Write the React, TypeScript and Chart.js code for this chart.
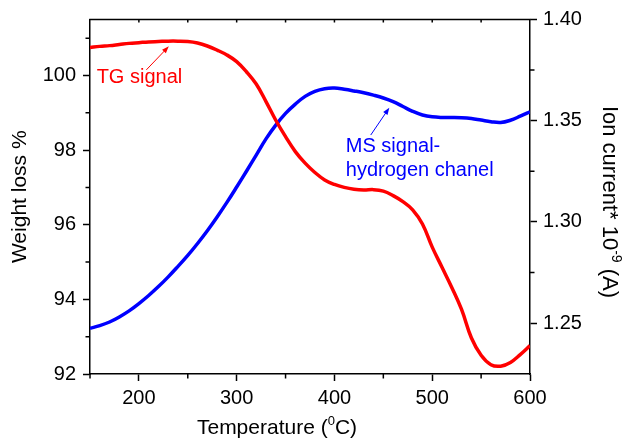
import React, { useEffect, useRef } from 'react';
import { Chart, registerables } from 'chart.js';

Chart.register(...registerables);

const temperatures = [150, 160, 170, 180, 190, 200, 210, 220, 230, 240, 250, 260, 270, 280, 290, 300, 310, 320, 330, 340, 350, 360, 370, 380, 390, 400, 410, 420, 430, 440, 450, 460, 470, 480, 490, 500, 510, 520, 530, 540, 550, 560, 570, 580, 590, 600];

const tgSignal = [100.75, 100.78, 100.8, 100.83, 100.86, 100.88, 100.9, 100.91, 100.92, 100.92, 100.91, 100.87, 100.79, 100.68, 100.55, 100.37, 100.1, 99.77, 99.3, 98.8, 98.36, 97.96, 97.65, 97.4, 97.2, 97.08, 97.0, 96.95, 96.93, 96.94, 96.9, 96.78, 96.62, 96.4, 96.02, 95.4, 94.86, 94.32, 93.73, 92.97, 92.5, 92.25, 92.21, 92.31, 92.52, 92.76];

const msSignal = [1.2474, 1.2487, 1.2505, 1.253, 1.256, 1.2596, 1.2636, 1.268, 1.2728, 1.278, 1.2834, 1.2893, 1.2956, 1.3024, 1.3096, 1.3172, 1.325, 1.333, 1.341, 1.3478, 1.3536, 1.3582, 1.362, 1.3645, 1.3658, 1.3661, 1.3655, 1.3647, 1.3638, 1.3626, 1.3612, 1.3594, 1.357, 1.3546, 1.3528, 1.3519, 1.3516, 1.3516, 1.3515, 1.3511, 1.3503, 1.3495, 1.3491, 1.3502, 1.3522, 1.3544];

const xTicks = [200, 300, 400, 500, 600];
const xMinorTicks = [150, 250, 350, 450, 550];
const leftTicks = [92, 94, 96, 98, 100];
const leftMinorTicks = [93, 95, 97, 99, 101];
const rightTicks = [1.25, 1.3, 1.35, 1.4];
const rightMinorTicks = [1.275, 1.325, 1.375];

const xRange = [150, 600];
const leftRange = [92, 101.5];
const rightRange = [1.2248, 1.4];

// annotations in data coordinates: [x, y]
const tgLabel = { text: 'TG signal', at: [156.8, 99.8], tail: [207.6, 100.15], head: [230.6, 100.78] };
const msLabel = { lines: ['MS signal-', 'hydrogen chanel'], at: [411.6, 1.3347], lineGap: 1.3227, tail: [437.1, 1.3429], head: [456.1, 1.3564] };

const FONT = '"Liberation Sans", Arial, sans-serif';

function drawArrow(ctx: CanvasRenderingContext2D, x1: number, y1: number, x2: number, y2: number, color: string) {
  const ang = Math.atan2(y2 - y1, x2 - x1);
  const len = 7;
  const w = 2.6;
  ctx.save();
  ctx.strokeStyle = color;
  ctx.fillStyle = color;
  ctx.lineWidth = 1;
  ctx.beginPath();
  ctx.moveTo(x1, y1);
  ctx.lineTo(x2 - Math.cos(ang) * len * 0.8, y2 - Math.sin(ang) * len * 0.8);
  ctx.stroke();
  ctx.beginPath();
  ctx.moveTo(x2, y2);
  ctx.lineTo(x2 - Math.cos(ang) * len - Math.sin(ang) * w, y2 - Math.sin(ang) * len + Math.cos(ang) * w);
  ctx.lineTo(x2 - Math.cos(ang) * len + Math.sin(ang) * w, y2 - Math.sin(ang) * len - Math.cos(ang) * w);
  ctx.closePath();
  ctx.fill();
  ctx.restore();
}

const decorPlugin = {
  id: 'decor',
  afterDraw(chart: any) {
    const { ctx, chartArea } = chart;
    const sx = chart.scales.x;
    const sy = chart.scales.y;
    const sy1 = chart.scales.y1;
    const { left, right, top, bottom } = chartArea;
    ctx.save();
    ctx.strokeStyle = '#000';
    ctx.lineWidth = 1.5;
    // top frame
    ctx.beginPath();
    ctx.moveTo(left - 0.75, top);
    ctx.lineTo(right + 0.75, top);
    ctx.stroke();
    ctx.beginPath();
    // bottom minor ticks
    xMinorTicks.forEach((v) => {
      const p = sx.getPixelForValue(v);
      ctx.moveTo(p, bottom);
      ctx.lineTo(p, bottom + 4.5);
    });
    // top inward ticks
    [...xTicks, ...xMinorTicks].forEach((v) => {
      const p = sx.getPixelForValue(v);
      if (p > left + 1 && p < right - 1) {
        ctx.moveTo(p, top);
        ctx.lineTo(p, top + 3);
      }
    });
    leftMinorTicks.forEach((v) => {
      const p = sy.getPixelForValue(v);
      ctx.moveTo(left - 4.5, p);
      ctx.lineTo(left, p);
    });
    rightMinorTicks.forEach((v) => {
      const p = sy1.getPixelForValue(v);
      ctx.moveTo(right, p);
      ctx.lineTo(right + 4.5, p);
    });
    ctx.stroke();

    // annotations
    ctx.font = `20px ${FONT}`;
    ctx.textAlign = 'left';
    ctx.textBaseline = 'alphabetic';
    ctx.fillStyle = '#ff0000';
    ctx.fillText(tgLabel.text, sx.getPixelForValue(tgLabel.at[0]), sy.getPixelForValue(tgLabel.at[1]));
    drawArrow(ctx, sx.getPixelForValue(tgLabel.tail[0]), sy.getPixelForValue(tgLabel.tail[1]), sx.getPixelForValue(tgLabel.head[0]), sy.getPixelForValue(tgLabel.head[1]), '#ff0000');
    ctx.fillStyle = '#0000ff';
    ctx.fillText(msLabel.lines[0], sx.getPixelForValue(msLabel.at[0]), sy1.getPixelForValue(msLabel.at[1]));
    ctx.fillText(msLabel.lines[1], sx.getPixelForValue(msLabel.at[0]), sy1.getPixelForValue(msLabel.lineGap));
    drawArrow(ctx, sx.getPixelForValue(msLabel.tail[0]), sy1.getPixelForValue(msLabel.tail[1]), sx.getPixelForValue(msLabel.head[0]), sy1.getPixelForValue(msLabel.head[1]), '#0000ff');

    // axis titles
    const big = `21px ${FONT}`;
    const small = `13px ${FONT}`;
    ctx.fillStyle = '#000';
    // bottom
    ctx.font = big;
    ctx.textAlign = 'left';
    const t1 = 'Temperature (';
    const t2 = '0';
    const t3 = 'C)';
    const w1 = ctx.measureText(t1).width;
    const w3 = ctx.measureText(t3).width;
    ctx.font = small;
    const w2 = ctx.measureText(t2).width;
    const total = w1 + w2 + w3;
    const bx = 277 - total / 2;
    const by = 434;
    ctx.font = big;
    ctx.fillText(t1, bx, by);
    ctx.font = small;
    ctx.fillText(t2, bx + w1, by - 9);
    ctx.font = big;
    ctx.fillText(t3, bx + w1 + w2, by);

    // left
    ctx.save();
    ctx.translate(26, (top + bottom) / 2);
    ctx.rotate(-Math.PI / 2);
    ctx.font = big;
    ctx.textAlign = 'center';
    ctx.fillText('Weight loss %', 0, 0);
    ctx.restore();

    // right
    const bigR = `22px ${FONT}`;
    const smallR = `14px ${FONT}`;
    ctx.save();
    ctx.translate(603, 202);
    ctx.rotate(Math.PI / 2);
    ctx.textAlign = 'left';
    const r1 = 'Ion current* 10';
    const r2 = '-9';
    const r3 = ' (A)';
    ctx.font = bigR;
    const q1 = ctx.measureText(r1).width;
    const q3 = ctx.measureText(r3).width;
    ctx.font = smallR;
    const q2 = ctx.measureText(r2).width;
    const rt = q1 + q2 + q3;
    const rx = -rt / 2;
    ctx.font = bigR;
    ctx.fillText(r1, rx, 0);
    ctx.font = smallR;
    ctx.fillText(r2, rx + q1, -9);
    ctx.font = bigR;
    ctx.fillText(r3, rx + q1 + q2, 0);
    ctx.restore();

    ctx.restore();
  },
};

export default function App() {
  const ref = useRef<HTMLCanvasElement | null>(null);
  useEffect(() => {
    if (!ref.current) return;
    const tickFont = { family: FONT, size: 20 };
    const gridCommon = { drawOnChartArea: false, drawTicks: true, tickLength: 7, tickColor: '#000', tickWidth: 1.5 };
    const chart = new Chart(ref.current, {
      type: 'line',
      data: {
        datasets: [
          {
            label: 'TG signal',
            data: temperatures.map((t, i) => ({ x: t, y: tgSignal[i] })),
            borderColor: '#ff0000',
            borderWidth: 3.5,
            pointRadius: 0,
            tension: 0.4,
            yAxisID: 'y',
            fill: false,
          },
          {
            label: 'MS signal',
            data: temperatures.map((t, i) => ({ x: t, y: msSignal[i] })),
            borderColor: '#0000ff',
            borderWidth: 3.5,
            pointRadius: 0,
            tension: 0.4,
            yAxisID: 'y1',
            fill: false,
          },
        ],
      },
      options: {
        animation: false,
        responsive: false,
        maintainAspectRatio: false,
        layout: { padding: { top: 19.5, left: 0, right: 0, bottom: 0 } },
        plugins: { legend: { display: false }, tooltip: { enabled: false } },
        scales: {
          x: {
            type: 'linear',
            min: xRange[0],
            max: xRange[1],
            afterBuildTicks: (s: any) => { s.ticks = xTicks.map((v) => ({ value: v })); },
            afterFit: (s: any) => { s.height = 66; },
            ticks: { font: tickFont, color: '#000', padding: 5, maxRotation: 0, autoSkip: false, callback: (v: any) => String(v) },
            grid: gridCommon,
            border: { display: true, color: '#000', width: 1.5 },
          },
          y: {
            type: 'linear',
            position: 'left',
            min: leftRange[0],
            max: leftRange[1],
            afterBuildTicks: (s: any) => { s.ticks = leftTicks.map((v) => ({ value: v })); },
            afterFit: (s: any) => { s.width = 90; },
            ticks: { font: tickFont, color: '#000', padding: 7, autoSkip: false, callback: (v: any) => String(v) },
            grid: gridCommon,
            border: { display: true, color: '#000', width: 1.5 },
          },
          y1: {
            type: 'linear',
            position: 'right',
            min: rightRange[0],
            max: rightRange[1],
            afterBuildTicks: (s: any) => { s.ticks = rightTicks.map((v) => ({ value: v })); },
            afterFit: (s: any) => { s.width = 93; },
            ticks: { font: tickFont, color: '#000', padding: 6, autoSkip: false, callback: (v: any) => Number(v).toFixed(2) },
            grid: gridCommon,
            border: { display: true, color: '#000', width: 1.5 },
          },
        },
      },
      plugins: [decorPlugin],
    } as any);
    return () => chart.destroy();
  }, []);
  return (
    <div style={{ position: 'absolute', left: 0, top: 0, width: 623, height: 440, background: '#fff' }}>
      <canvas ref={ref} width={623} height={440} style={{ width: 623, height: 440, display: 'block' }} />
    </div>
  );
}
